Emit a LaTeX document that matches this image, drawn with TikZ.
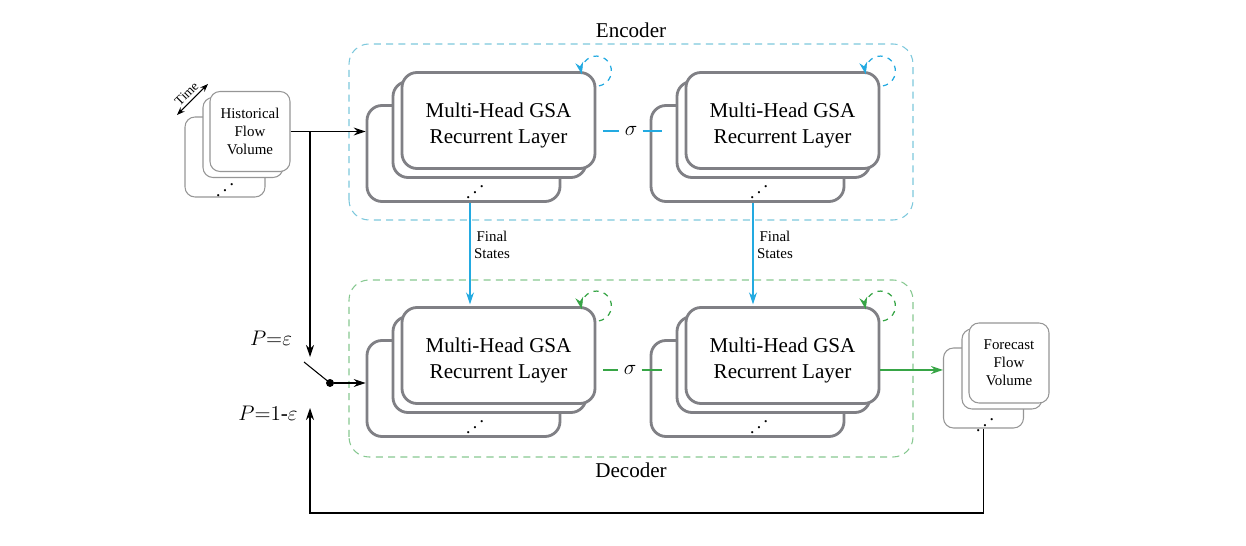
\documentclass[tikz,border=0pt]{standalone}
\usepackage{fontspec}
\setmainfont{Liberation Serif}
\usepackage{graphicx}
\usetikzlibrary{arrows.meta}
\definecolor{encblue}{RGB}{35,170,225}
\definecolor{encbox}{RGB}{125,200,220}
\definecolor{decgreen}{RGB}{55,165,70}
\definecolor{decbox}{RGB}{135,200,145}
\definecolor{laygray}{RGB}{128,128,133}
\definecolor{stackgray}{RGB}{150,150,150}
\newcommand{\stackdots}{\reflectbox{$\ddots$}}
\begin{document}
\begin{tikzpicture}[
    layer/.style={draw=laygray, line width=1.6pt, rounded corners=0.3cm, fill=white, minimum width=3.86cm, minimum height=1.92cm, inner sep=0pt},
    layertext/.style={align=center, inner sep=0pt, font=\fontsize{12}{14.8}\selectfont},
    stackbox/.style={draw=stackgray, line width=0.6pt, rounded corners=0.2cm, fill=white, minimum width=1.6cm, minimum height=1.6cm, inner sep=0pt, align=center, font=\fontsize{8.5}{10.2}\selectfont},
    encframe/.style={draw=encbox, line width=0.6pt, dash pattern=on 4pt off 3pt, rounded corners=0.4cm},
    decframe/.style={draw=decbox, line width=0.6pt, dash pattern=on 4pt off 3pt, rounded corners=0.4cm},
    link/.style={line width=0.6pt, -{Stealth[length=2.4mm, width=1.6mm]}},
    encline/.style={draw=encblue, line width=0.7pt},
    decline/.style={draw=decgreen, line width=0.7pt},
    enctip/.style={-{Stealth[length=2.4mm, width=1.6mm, encblue]}},
    dectip/.style={-{Stealth[length=2.4mm, width=1.6mm, decgreen]}},
    sig/.style={inner sep=0.1cm, font=\fontsize{12}{14}\selectfont},
    dotsmark/.style={inner sep=0pt, font=\fontsize{10.5}{10}\selectfont},
    smalltext/.style={align=center, font=\fontsize{8.5}{9.8}\selectfont}
]
    \useasboundingbox (0,0) rectangle (24.92,10.92);
    \draw [encframe] (6.98,6.52) rectangle (18.26,10.04);
    \draw [decframe] (6.98,1.78) rectangle (18.26,5.32);
    \node [font=\fontsize{12}{14}\selectfont] (encL) at (12.62,10.32) {Encoder};
    \node [font=\fontsize{12}{14}\selectfont] (decL) at (12.62,1.52) {Decoder};
    \node [stackbox] (inB) at (4.50,7.78) {};
    \node [stackbox] (inM) at (4.86,8.17) {};
    \node [stackbox] (inF) at (5.00,8.29) {Historical\\Flow\\Volume};
    \node [dotsmark] (inD) at (4.50,7.22) {\stackdots};
    \coordinate (tA) at (3.54,8.62);
    \coordinate (tB) at (4.16,9.24);
    \draw [line width=0.6pt, {Stealth[length=1.6mm, width=1.2mm]}-{Stealth[length=1.6mm, width=1.2mm]}] (tA) -- (tB) node [midway, above, sloped, inner sep=2pt, font=\fontsize{7.5}{8}\selectfont] (tL) {Time};
    \node [stackbox] (oB) at (19.67,3.16) {};
    \node [stackbox] (oM) at (20.04,3.54) {};
    \node [stackbox] (oF) at (20.18,3.66) {Forecast\\Flow\\Volume};
    \node [dotsmark] (oD) at (19.70,2.52) {\stackdots};
    \node [layer] (e1B) at (9.27,7.85) {};
    \node [layer] (e1M) at (9.79,8.33) {};
    \node [layer] (e1F) at (9.97,8.51) {};
    \node [layertext] (e1T) at (9.97,8.41) {Multi-Head GSA\\Recurrent Layer};
    \node [dotsmark] (e1D) at (9.50,7.18) {\stackdots};
    \node [layer] (e2B) at (14.95,7.85) {};
    \node [layer] (e2M) at (15.47,8.33) {};
    \node [layer] (e2F) at (15.65,8.51) {};
    \node [layertext] (e2T) at (15.65,8.41) {Multi-Head GSA\\Recurrent Layer};
    \node [dotsmark] (e2D) at (15.18,7.18) {\stackdots};
    \node [layer] (d1B) at (9.27,3.15) {};
    \node [layer] (d1M) at (9.79,3.63) {};
    \node [layer] (d1F) at (9.97,3.81) {};
    \node [layertext] (d1T) at (9.97,3.71) {Multi-Head GSA\\Recurrent Layer};
    \node [dotsmark] (d1D) at (9.50,2.48) {\stackdots};
    \node [layer] (d2B) at (14.95,3.15) {};
    \node [layer] (d2M) at (15.47,3.63) {};
    \node [layer] (d2F) at (15.65,3.81) {};
    \node [layertext] (d2T) at (15.65,3.71) {Multi-Head GSA\\Recurrent Layer};
    \node [dotsmark] (d2D) at (15.18,2.48) {\stackdots};
    \node [sig] (s1) at (12.62,8.30) {$\sigma$};
    \coordinate (s1a) at (12.06,8.30);
    \coordinate (s1b) at (13.24,8.30);
    \draw [encline] (s1a) -- (s1.west);
    \draw [encline] (s1.east) -- (s1b);
    \node [sig] (s2) at (12.60,3.52) {$\sigma$};
    \coordinate (s2a) at (12.06,3.52);
    \coordinate (s2b) at (13.24,3.52);
    \draw [decline] (s2a) -- (s2.west);
    \draw [decline] (s2.east) -- (s2b);
    \draw [encline, enctip, shorten >=1pt] ([xshift=0.13cm]e1B.south) -- ([xshift=0.13cm]e1B.south |- d1F.north) node [pos=0.41, right, inner sep=2pt, smalltext] (fs1) {Final\\States};
    \draw [encline, enctip, shorten >=1pt] ([xshift=0.11cm]e2B.south) -- ([xshift=0.11cm]e2B.south |- d2F.north) node [pos=0.41, right, inner sep=2pt, smalltext] (fs2) {Final\\States};
    \draw [encline, dashed, enctip] ([shift={(-80:0.3)}]e1F.north east) arc [start angle=-80, end angle=192, radius=0.3];
    \draw [encline, dashed, enctip] ([shift={(-80:0.3)}]e2F.north east) arc [start angle=-80, end angle=192, radius=0.3];
    \draw [decline, dashed, dectip] ([shift={(-80:0.3)}]d1F.north east) arc [start angle=-80, end angle=192, radius=0.3];
    \draw [decline, dashed, dectip] ([shift={(-80:0.3)}]d2F.north east) arc [start angle=-80, end angle=192, radius=0.3];
    \draw [decline, dectip] (s2 -| d2F.east) -- (s2 -| oB.west);
    \draw [link] (inF.east) -- (inF.east -| e1B.west);
    \coordinate (jn) at (6.20,8.29);
    \coordinate (swTop) at (6.20,3.78);
    \coordinate (swFree) at (6.08,3.68);
    \node [circle, fill, inner sep=1.6pt] (swDot) at (6.60,3.26) {};
    \coordinate (swLow) at (6.20,2.76);
    \coordinate (fbCorner) at (6.20,0.66);
    \draw [link] (jn) -- (swTop);
    \draw [line width=0.6pt] (swFree) -- (swDot.center);
    \draw [link] (swDot) -- (swDot -| d1B.west);
    \draw [link] (oB.south) |- (fbCorner) -- (swLow);
    \node [font=\fontsize{12}{14}\selectfont] (pTop) at (5.42,4.16) {$P{=}\varepsilon$};
    \node [font=\fontsize{12}{14}\selectfont] (pLow) at (5.36,2.66) {$P{=}1$-$\varepsilon$};
\end{tikzpicture}
\end{document}
